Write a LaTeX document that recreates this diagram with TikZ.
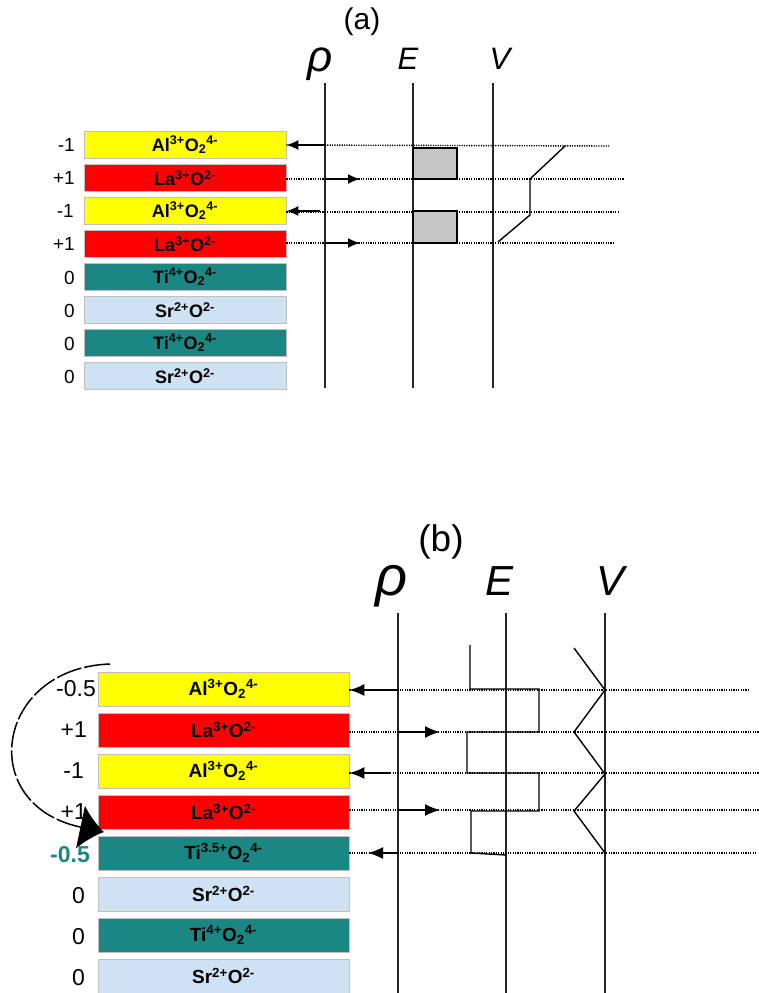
\documentclass[tikz,border=0pt]{standalone}
\usepackage{fontspec}
\setmainfont{Liberation Sans}
\usetikzlibrary{positioning,arrows.meta}

\definecolor{alyellow}{RGB}{255,255,0}
\definecolor{lared}{RGB}{255,0,0}
\definecolor{titeal}{RGB}{26,135,131}
\definecolor{srblue}{RGB}{207,226,243}

\newcommand{\AlO}{Al\textsuperscript{3+}O\textsubscript{2}\textsuperscript{4-}}
\newcommand{\LaO}{La\textsuperscript{3+}O\textsuperscript{2-}}
\newcommand{\TiO}[1]{Ti\textsuperscript{#1}O\textsubscript{2}\textsuperscript{4-}}
\newcommand{\SrO}{Sr\textsuperscript{2+}O\textsuperscript{2-}}
\newcommand{\fs}[1]{\fontsize{#1}{#1}\selectfont}

\begin{document}
\begin{tikzpicture}[x=1pt,y=-1pt]
\tikzstyle{layer}=[draw=gray!50,line width=0.8pt,inner sep=0pt,minimum width=202pt,minimum height=27pt,font=\bfseries\fs{18}]
\tikzstyle{layerb}=[layer,minimum width=251pt,minimum height=34pt,font=\bfseries\fs{19}]
\tikzstyle{charge}=[anchor=east,inner sep=0pt,font=\fs{19}]
\tikzstyle{chargeb}=[charge,font=\fs{23}]
\tikzstyle{axis}=[line width=1.3pt,black!85]
\tikzstyle{probe}=[line width=1.4pt,dash pattern=on 1.2pt off 1.2pt]
\tikzstyle{push}=[line width=1.5pt,-{Latex[length=12pt,width=10pt]}]
\tikzstyle{pushb}=[line width=1.6pt,-{Latex[length=15pt,width=12pt]}]
\tikzstyle{profile}=[line width=1.4pt]
\useasboundingbox (0,0) rectangle (759,993);

% (a) layers
\node[layer,fill=alyellow] (a1) at (185,145) {\AlO};
\node[layer,fill=lared] (a2) at (185,178) {\LaO};
\node[layer,fill=alyellow] (a3) at (185,211) {\AlO};
\node[layer,fill=lared] (a4) at (185,244) {\LaO};
\node[layer,fill=titeal] (a5) at (185,277) {\TiO{4+}};
\node[layer,fill=srblue] (a6) at (185,310) {\SrO};
\node[layer,fill=titeal] (a7) at (185,343) {\TiO{4+}};
\node[layer,fill=srblue] (a8) at (185,376) {\SrO};
\node[charge] (qa1) at (75,145) {-1};
\node[charge] (qa2) at (75,178) {+1};
\node[charge] (qa3) at (74,211) {-1};
\node[charge] (qa4) at (75,244) {+1};
\node[charge] (qa5) at (75,278) {0};
\node[charge] (qa6) at (75,311) {0};
\node[charge] (qa7) at (75,344) {0};
\node[charge] (qa8) at (75,377) {0};

\node[anchor=base,font=\fs{30}] (taga) at (362,29) {(a)};
\node[anchor=base,font=\itshape\fs{44}] (rhoa) at (320,71) {ρ};
\node[anchor=base,font=\itshape\fs{31}] (ea) at (408,69) {E};
\node[anchor=base,font=\itshape\fs{31}] (va) at (500,69) {V};
\draw[axis] (325,83) -- (325,388);
\draw[axis] (413,83) -- (413,388);
\draw[axis] (493,83) -- (493,388);

\coordinate (ra1) at (610,146);
\coordinate (ra2) at (624,179);
\coordinate (ra3) at (618,212);
\coordinate (ra4) at (615,243);
\draw[probe] (a1.east) -- (ra1);
\draw[probe] (a2.east |- ra2) -- (ra2);
\draw[probe] (a3.east |- ra3) -- (ra3);
\draw[probe] (a4.east |- ra4) -- (ra4);

\coordinate (pa1) at (325,145);
\coordinate (pa2) at (325,179);
\coordinate (pa3) at (320,211);
\coordinate (pa4) at (325,243);
\draw[push] (pa1) -- (a1.east);
\draw[push] (pa2) -- ++(35,0);
\draw[push] (pa3) -- (a3.east);
\draw[push] (pa4) -- ++(35,0);

\draw[profile,fill=gray!45] (413,148) rectangle (457,179);
\draw[profile,fill=gray!45] (413,211) rectangle (457,243);
\draw[profile] (498,242) -- (530,215) -- (530,179) -- (565,146);

% (b) layers
\node[layerb,fill=alyellow] (b1) at (223.5,689) {\AlO};
\node[layerb,fill=lared] (b2) at (223.5,730) {\LaO};
\node[layerb,fill=alyellow] (b3) at (223.5,771) {\AlO};
\node[layerb,fill=lared] (b4) at (223.5,812) {\LaO};
\node[layerb,fill=titeal] (b5) at (223.5,853) {\TiO{3.5+}};
\node[layerb,fill=srblue] (b6) at (223.5,894) {\SrO};
\node[layerb,fill=titeal] (b7) at (223.5,935) {\TiO{4+}};
\node[layerb,fill=srblue] (b8) at (223.5,976) {\SrO};
\node[chargeb] (qb1) at (96,689) {-0.5};
\node[chargeb] (qb2) at (87,730) {+1};
\node[chargeb] (qb3) at (84,771) {-1};
\node[chargeb] (qb4) at (87,812) {+1};
\node[chargeb,text=titeal,font=\bfseries\fs{23}] (qb5) at (90,855) {-0.5};
\node[chargeb] (qb6) at (85,896) {0};
\node[chargeb] (qb7) at (85,937) {0};
\node[chargeb] (qb8) at (85,978) {0};

\node[anchor=base,font=\fs{37}] (tagb) at (441,551) {(b)};
\node[anchor=base,font=\itshape\fs{56}] (rhob) at (392,595) {ρ};
\node[anchor=base,font=\itshape\fs{42}] (eb) at (500,595) {E};
\node[anchor=base,font=\itshape\fs{42}] (vb) at (610,595) {V};
\draw[axis] (398,613) -- (398,993);
\draw[axis] (506,613) -- (506,993);
\draw[axis] (605,613) -- (605,993);

\coordinate (rb1) at (750,690);
\coordinate (rb2) at (759,732);
\coordinate (rb3) at (759,773);
\coordinate (rb4) at (759,810);
\coordinate (rb5) at (757,853);
\draw[probe] (b1.east |- rb1) -- (rb1);
\draw[probe] (b2.east |- rb2) -- (rb2);
\draw[probe] (b3.east |- rb3) -- (rb3);
\draw[probe] (b4.east |- rb4) -- (rb4);
\draw[probe] (b5.east |- rb5) -- (rb5);

\coordinate (pb1) at (398,690);
\coordinate (pb2) at (398,732);
\coordinate (pb3) at (390,773);
\coordinate (pb4) at (398,810);
\coordinate (pb5) at (398,853);
\draw[pushb] (pb1) -- (b1.east |- pb1);
\draw[pushb] (pb2) -- ++(42,0);
\draw[pushb] (pb3) -- (b3.east |- pb3);
\draw[pushb] (pb4) -- ++(42,0);
\draw[pushb] (pb5) -- ++(-30,0);

\draw[profile] (470,645) -- (470,689) -- (539,689) -- (539,732) -- (467,732)
  -- (467,773) -- (539,773) -- (539,811) -- (471,811) -- (471,853) -- (506,855);
\draw[profile] (574,648) -- (605,690) -- (574,732) -- (605,774) -- (574,811) -- (605,853);

% charge moved to the interface
\draw[line width=1.5pt,dash pattern=on 26pt off 3pt,-{Latex[length=24pt,width=44pt]}]
  (110,664) .. controls (-5,668) and (-25,805) .. (104,832);
\end{tikzpicture}
\end{document}
